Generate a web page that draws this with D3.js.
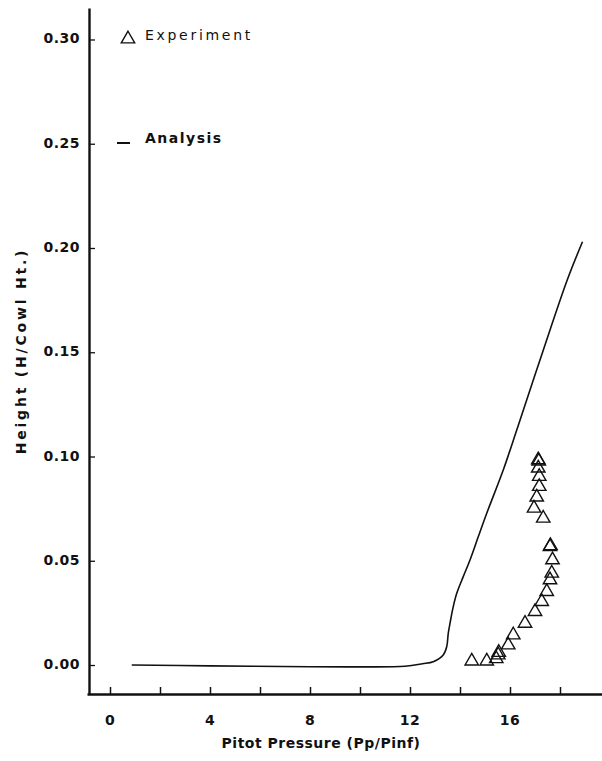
<!DOCTYPE html>
<html>
<head>
<meta charset="utf-8">
<script src="https://cdn.jsdelivr.net/npm/d3@7"></script>
<style>
  html, body { margin: 0; padding: 0; background: #fff; }
  svg { display: block; }
  text { font-family: "DejaVu Sans", Verdana, sans-serif; fill: #111; }
  .tick-label { font-size: 14px; font-weight: bold; letter-spacing: 0.5px; }
  .axis-title { font-size: 14px; font-weight: bold; }
  .legend-text { font-size: 14px; }
</style>
</head>
<body>
<svg id="chart" width="602" height="761"></svg>
<script>
"use strict";

// ===== Data =====
// Analysis curve: pitot pressure vs height
const analysisP = [0.87, 4, 8, 10, 11.8, 12.5, 12.93, 13.33, 13.47, 13.53, 13.6, 13.73, 13.87, 14.13, 14.4, 14.73, 15.07, 15.73, 16.27, 16.8, 17.33, 18.3, 18.9];
const analysisH = [0.000, -0.0004, -0.0008, -0.0009, -0.0006, 0.0006, 0.0016, 0.0048, 0.0088, 0.0152, 0.020, 0.028, 0.0344, 0.0424, 0.0504, 0.0615, 0.0728, 0.0935, 0.1127, 0.1319, 0.151, 0.185, 0.203];

// Experiment points
const expP = [14.47, 15.07, 15.45, 15.53, 15.55, 15.93, 16.13, 16.6, 17.0, 17.27, 17.47, 17.6, 17.67, 17.7, 17.6, 17.62, 17.33, 16.96, 17.07, 17.17, 17.17, 17.13, 17.13, 17.15];
const expH = [0.0019, 0.0019, 0.003, 0.0048, 0.006, 0.0096, 0.0144, 0.020, 0.0256, 0.0304, 0.0352, 0.0408, 0.044, 0.0504, 0.0568, 0.0572, 0.0704, 0.0752, 0.0805, 0.0856, 0.0904, 0.0944, 0.0984, 0.0978];

const xTicks = [0, 2, 4, 6, 8, 10, 12, 14, 16, 18];
const xTickLabels = [0, 4, 8, 12, 16];
const yTicks = [0.00, 0.05, 0.10, 0.15, 0.20, 0.25, 0.30];

// ===== Setup =====
const svg = d3.select("#chart");

const x = d3.scaleLinear().domain([-0.92, 19.68]).range([87, 602]);
const y = d3.scaleLinear().domain([-0.0139, 0.3151]).range([694, 8]);

// ===== Axes =====
const xAxis = d3.axisTop(x)
  .tickValues(xTicks)
  .tickSize(7)
  .tickSizeOuter(0)
  .tickFormat("");
const gx = svg.append("g")
  .attr("transform", `translate(0,${y.range()[0]})`)
  .call(xAxis);
gx.select(".domain").attr("stroke", "#111").attr("stroke-width", 2.6);
gx.selectAll(".tick line").attr("stroke", "#111").attr("stroke-width", 1.5);

const yAxis = d3.axisRight(y)
  .tickValues(yTicks)
  .tickSize(6)
  .tickSizeOuter(0)
  .tickFormat("");
const gy = svg.append("g")
  .attr("transform", `translate(89,0)`)
  .call(yAxis);
gy.select(".domain").attr("stroke", "#111").attr("stroke-width", 2.4);
gy.selectAll(".tick line").attr("stroke", "#111").attr("stroke-width", 1.3);

// tick labels
svg.append("g").selectAll("text")
  .data(xTickLabels)
  .join("text")
  .attr("class", "tick-label")
  .attr("x", d => x(d))
  .attr("y", 721)
  .attr("text-anchor", "middle")
  .attr("dominant-baseline", "middle")
  .text(d => d);

svg.append("g").selectAll("text")
  .data(yTicks)
  .join("text")
  .attr("class", "tick-label")
  .attr("x", 80)
  .attr("y", d => y(d))
  .attr("text-anchor", "end")
  .attr("dominant-baseline", "middle")
  .text(d => d3.format(".2f")(d));

// axis titles
svg.append("text")
  .attr("class", "axis-title")
  .attr("x", 321)
  .attr("y", 744)
  .attr("letter-spacing", "0.5px")
  .attr("text-anchor", "middle")
  .attr("dominant-baseline", "middle")
  .text("Pitot Pressure (Pp/Pinf)");

svg.append("text")
  .attr("class", "axis-title")
  .attr("transform", "translate(22,351) rotate(-90)")
  .attr("letter-spacing", "2.8px")
  .attr("text-anchor", "middle")
  .attr("dominant-baseline", "middle")
  .text("Height (H/Cowl Ht.)");

// ===== Analysis line =====
svg.append("path")
  .datum(d3.zip(analysisP, analysisH))
  .attr("d", d3.line().x(d => x(d[0])).y(d => y(d[1])).curve(d3.curveCatmullRom.alpha(0.5)))
  .attr("fill", "none")
  .attr("stroke", "#111")
  .attr("stroke-width", 1.6);

// ===== Experiment points =====
const tri = d3.symbol().type(d3.symbolTriangle).size(78);
svg.append("g").selectAll("path")
  .data(d3.zip(expP, expH))
  .join("path")
  .attr("d", tri)
  .attr("transform", d => `translate(${x(d[0])},${y(d[1])})`)
  .attr("fill", "none")
  .attr("stroke", "#111")
  .attr("stroke-width", 1.4);

// ===== Legend =====
svg.append("path")
  .attr("d", tri)
  .attr("transform", "translate(128,39)")
  .attr("fill", "none")
  .attr("stroke", "#111")
  .attr("stroke-width", 1.4);
svg.append("text")
  .attr("class", "legend-text")
  .attr("x", 145)
  .attr("y", 36)
  .attr("letter-spacing", "2.7px")
  .attr("dominant-baseline", "middle")
  .text("Experiment");

svg.append("line")
  .attr("x1", 117).attr("x2", 130)
  .attr("y1", 143).attr("y2", 143)
  .attr("stroke", "#111")
  .attr("stroke-width", 2);
svg.append("text")
  .attr("class", "legend-text")
  .attr("x", 145)
  .attr("y", 139)
  .attr("letter-spacing", "1.5px")
  .attr("font-weight", "bold")
  .attr("dominant-baseline", "middle")
  .text("Analysis");
</script>
</body>
</html>
